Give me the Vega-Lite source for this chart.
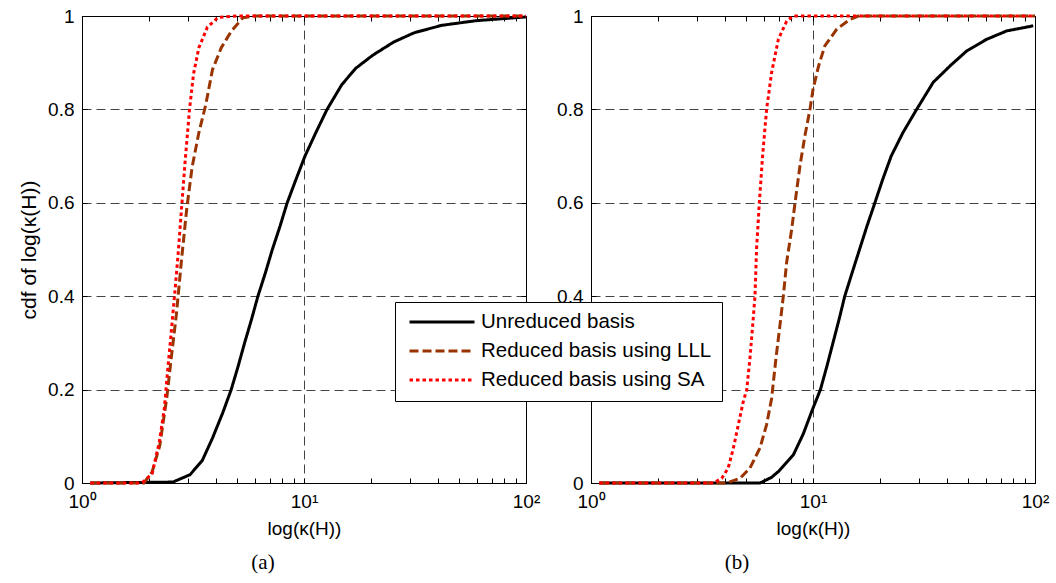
{
  "$schema": "https://vega.github.io/schema/vega-lite/v6.json",
  "padding": {"left": 18, "top": 6, "right": 5, "bottom": 5},
  "background": "white",
  "bounds": "flush",
  "spacing": 65,
  "data": {"values": [
    {"panel": "a", "method": "Unreduced basis", "kappa": 1.09, "cdf": 0},
    {"panel": "a", "method": "Unreduced basis", "kappa": 2.57, "cdf": 0.002},
    {"panel": "a", "method": "Unreduced basis", "kappa": 3.07, "cdf": 0.018},
    {"panel": "a", "method": "Unreduced basis", "kappa": 3.48, "cdf": 0.048},
    {"panel": "a", "method": "Unreduced basis", "kappa": 3.87, "cdf": 0.096},
    {"panel": "a", "method": "Unreduced basis", "kappa": 4.31, "cdf": 0.151},
    {"panel": "a", "method": "Unreduced basis", "kappa": 4.7, "cdf": 0.2},
    {"panel": "a", "method": "Unreduced basis", "kappa": 5.05, "cdf": 0.25},
    {"panel": "a", "method": "Unreduced basis", "kappa": 5.4, "cdf": 0.3},
    {"panel": "a", "method": "Unreduced basis", "kappa": 5.8, "cdf": 0.35},
    {"panel": "a", "method": "Unreduced basis", "kappa": 6.2, "cdf": 0.4},
    {"panel": "a", "method": "Unreduced basis", "kappa": 6.7, "cdf": 0.45},
    {"panel": "a", "method": "Unreduced basis", "kappa": 7.2, "cdf": 0.5},
    {"panel": "a", "method": "Unreduced basis", "kappa": 7.8, "cdf": 0.55},
    {"panel": "a", "method": "Unreduced basis", "kappa": 8.4, "cdf": 0.6},
    {"panel": "a", "method": "Unreduced basis", "kappa": 9.2, "cdf": 0.65},
    {"panel": "a", "method": "Unreduced basis", "kappa": 10.1, "cdf": 0.7},
    {"panel": "a", "method": "Unreduced basis", "kappa": 11.3, "cdf": 0.75},
    {"panel": "a", "method": "Unreduced basis", "kappa": 12.7, "cdf": 0.8},
    {"panel": "a", "method": "Unreduced basis", "kappa": 14.8, "cdf": 0.853},
    {"panel": "a", "method": "Unreduced basis", "kappa": 17.1, "cdf": 0.888},
    {"panel": "a", "method": "Unreduced basis", "kappa": 20.4, "cdf": 0.916},
    {"panel": "a", "method": "Unreduced basis", "kappa": 25.3, "cdf": 0.944},
    {"panel": "a", "method": "Unreduced basis", "kappa": 31.3, "cdf": 0.964},
    {"panel": "a", "method": "Unreduced basis", "kappa": 41.7, "cdf": 0.98},
    {"panel": "a", "method": "Unreduced basis", "kappa": 59.6, "cdf": 0.99},
    {"panel": "a", "method": "Unreduced basis", "kappa": 100, "cdf": 0.998},
    {"panel": "a", "method": "Reduced basis using LLL", "kappa": 1.09, "cdf": 0},
    {"panel": "a", "method": "Reduced basis using LLL", "kappa": 1.9, "cdf": 0},
    {"panel": "a", "method": "Reduced basis using LLL", "kappa": 2.07, "cdf": 0.024},
    {"panel": "a", "method": "Reduced basis using LLL", "kappa": 2.24, "cdf": 0.08},
    {"panel": "a", "method": "Reduced basis using LLL", "kappa": 2.41, "cdf": 0.183},
    {"panel": "a", "method": "Reduced basis using LLL", "kappa": 2.52, "cdf": 0.265},
    {"panel": "a", "method": "Reduced basis using LLL", "kappa": 2.66, "cdf": 0.36},
    {"panel": "a", "method": "Reduced basis using LLL", "kappa": 2.81, "cdf": 0.48},
    {"panel": "a", "method": "Reduced basis using LLL", "kappa": 2.96, "cdf": 0.585},
    {"panel": "a", "method": "Reduced basis using LLL", "kappa": 3.13, "cdf": 0.675},
    {"panel": "a", "method": "Reduced basis using LLL", "kappa": 3.36, "cdf": 0.75},
    {"panel": "a", "method": "Reduced basis using LLL", "kappa": 3.61, "cdf": 0.81},
    {"panel": "a", "method": "Reduced basis using LLL", "kappa": 3.87, "cdf": 0.885},
    {"panel": "a", "method": "Reduced basis using LLL", "kappa": 4.24, "cdf": 0.932},
    {"panel": "a", "method": "Reduced basis using LLL", "kappa": 4.71, "cdf": 0.968},
    {"panel": "a", "method": "Reduced basis using LLL", "kappa": 5.3, "cdf": 0.996},
    {"panel": "a", "method": "Reduced basis using LLL", "kappa": 6, "cdf": 1},
    {"panel": "a", "method": "Reduced basis using LLL", "kappa": 100, "cdf": 1},
    {"panel": "a", "method": "Reduced basis using SA", "kappa": 1.09, "cdf": 0},
    {"panel": "a", "method": "Reduced basis using SA", "kappa": 1.86, "cdf": 0},
    {"panel": "a", "method": "Reduced basis using SA", "kappa": 2.07, "cdf": 0.02},
    {"panel": "a", "method": "Reduced basis using SA", "kappa": 2.23, "cdf": 0.088},
    {"panel": "a", "method": "Reduced basis using SA", "kappa": 2.35, "cdf": 0.16},
    {"panel": "a", "method": "Reduced basis using SA", "kappa": 2.43, "cdf": 0.24},
    {"panel": "a", "method": "Reduced basis using SA", "kappa": 2.52, "cdf": 0.32},
    {"panel": "a", "method": "Reduced basis using SA", "kappa": 2.61, "cdf": 0.4},
    {"panel": "a", "method": "Reduced basis using SA", "kappa": 2.71, "cdf": 0.49},
    {"panel": "a", "method": "Reduced basis using SA", "kappa": 2.81, "cdf": 0.59},
    {"panel": "a", "method": "Reduced basis using SA", "kappa": 2.91, "cdf": 0.685},
    {"panel": "a", "method": "Reduced basis using SA", "kappa": 3.05, "cdf": 0.8},
    {"panel": "a", "method": "Reduced basis using SA", "kappa": 3.18, "cdf": 0.876},
    {"panel": "a", "method": "Reduced basis using SA", "kappa": 3.36, "cdf": 0.932},
    {"panel": "a", "method": "Reduced basis using SA", "kappa": 3.67, "cdf": 0.976},
    {"panel": "a", "method": "Reduced basis using SA", "kappa": 4.1, "cdf": 0.997},
    {"panel": "a", "method": "Reduced basis using SA", "kappa": 5, "cdf": 1},
    {"panel": "a", "method": "Reduced basis using SA", "kappa": 100, "cdf": 1},
    {"panel": "b", "method": "Unreduced basis", "kappa": 1.09, "cdf": 0},
    {"panel": "b", "method": "Unreduced basis", "kappa": 5.77, "cdf": 0},
    {"panel": "b", "method": "Unreduced basis", "kappa": 6.5, "cdf": 0.012},
    {"panel": "b", "method": "Unreduced basis", "kappa": 7.0, "cdf": 0.025},
    {"panel": "b", "method": "Unreduced basis", "kappa": 8.15, "cdf": 0.06},
    {"panel": "b", "method": "Unreduced basis", "kappa": 9.04, "cdf": 0.105},
    {"panel": "b", "method": "Unreduced basis", "kappa": 9.9, "cdf": 0.155},
    {"panel": "b", "method": "Unreduced basis", "kappa": 10.8, "cdf": 0.2},
    {"panel": "b", "method": "Unreduced basis", "kappa": 11.55, "cdf": 0.25},
    {"panel": "b", "method": "Unreduced basis", "kappa": 12.3, "cdf": 0.3},
    {"panel": "b", "method": "Unreduced basis", "kappa": 13.1, "cdf": 0.35},
    {"panel": "b", "method": "Unreduced basis", "kappa": 13.9, "cdf": 0.4},
    {"panel": "b", "method": "Unreduced basis", "kappa": 15.0, "cdf": 0.45},
    {"panel": "b", "method": "Unreduced basis", "kappa": 16.2, "cdf": 0.5},
    {"panel": "b", "method": "Unreduced basis", "kappa": 17.5, "cdf": 0.55},
    {"panel": "b", "method": "Unreduced basis", "kappa": 19.0, "cdf": 0.6},
    {"panel": "b", "method": "Unreduced basis", "kappa": 20.6, "cdf": 0.65},
    {"panel": "b", "method": "Unreduced basis", "kappa": 22.5, "cdf": 0.7},
    {"panel": "b", "method": "Unreduced basis", "kappa": 25.4, "cdf": 0.75},
    {"panel": "b", "method": "Unreduced basis", "kappa": 29.3, "cdf": 0.8},
    {"panel": "b", "method": "Unreduced basis", "kappa": 34.8, "cdf": 0.858},
    {"panel": "b", "method": "Unreduced basis", "kappa": 41.4, "cdf": 0.893},
    {"panel": "b", "method": "Unreduced basis", "kappa": 49.2, "cdf": 0.925},
    {"panel": "b", "method": "Unreduced basis", "kappa": 60.5, "cdf": 0.95},
    {"panel": "b", "method": "Unreduced basis", "kappa": 74.5, "cdf": 0.968},
    {"panel": "b", "method": "Unreduced basis", "kappa": 98.2, "cdf": 0.979},
    {"panel": "b", "method": "Reduced basis using LLL", "kappa": 1.09, "cdf": 0},
    {"panel": "b", "method": "Reduced basis using LLL", "kappa": 4.08, "cdf": 0},
    {"panel": "b", "method": "Reduced basis using LLL", "kappa": 4.69, "cdf": 0.01},
    {"panel": "b", "method": "Reduced basis using LLL", "kappa": 5.2, "cdf": 0.032},
    {"panel": "b", "method": "Reduced basis using LLL", "kappa": 5.77, "cdf": 0.075},
    {"panel": "b", "method": "Reduced basis using LLL", "kappa": 6.18, "cdf": 0.125},
    {"panel": "b", "method": "Reduced basis using LLL", "kappa": 6.51, "cdf": 0.181},
    {"panel": "b", "method": "Reduced basis using LLL", "kappa": 6.81, "cdf": 0.267},
    {"panel": "b", "method": "Reduced basis using LLL", "kappa": 7.1, "cdf": 0.338},
    {"panel": "b", "method": "Reduced basis using LLL", "kappa": 7.35, "cdf": 0.4},
    {"panel": "b", "method": "Reduced basis using LLL", "kappa": 7.61, "cdf": 0.473},
    {"panel": "b", "method": "Reduced basis using LLL", "kappa": 8.02, "cdf": 0.544},
    {"panel": "b", "method": "Reduced basis using LLL", "kappa": 8.3, "cdf": 0.6},
    {"panel": "b", "method": "Reduced basis using LLL", "kappa": 8.74, "cdf": 0.68},
    {"panel": "b", "method": "Reduced basis using LLL", "kappa": 9.2, "cdf": 0.744},
    {"panel": "b", "method": "Reduced basis using LLL", "kappa": 9.69, "cdf": 0.8},
    {"panel": "b", "method": "Reduced basis using LLL", "kappa": 10.0, "cdf": 0.843},
    {"panel": "b", "method": "Reduced basis using LLL", "kappa": 10.6, "cdf": 0.893},
    {"panel": "b", "method": "Reduced basis using LLL", "kappa": 11.3, "cdf": 0.936},
    {"panel": "b", "method": "Reduced basis using LLL", "kappa": 12.8, "cdf": 0.972},
    {"panel": "b", "method": "Reduced basis using LLL", "kappa": 14.7, "cdf": 0.993},
    {"panel": "b", "method": "Reduced basis using LLL", "kappa": 16, "cdf": 1},
    {"panel": "b", "method": "Reduced basis using LLL", "kappa": 100, "cdf": 1},
    {"panel": "b", "method": "Reduced basis using SA", "kappa": 1.09, "cdf": 0},
    {"panel": "b", "method": "Reduced basis using SA", "kappa": 3.56, "cdf": 0},
    {"panel": "b", "method": "Reduced basis using SA", "kappa": 3.88, "cdf": 0.01},
    {"panel": "b", "method": "Reduced basis using SA", "kappa": 4.15, "cdf": 0.032},
    {"panel": "b", "method": "Reduced basis using SA", "kappa": 4.38, "cdf": 0.075},
    {"panel": "b", "method": "Reduced basis using SA", "kappa": 4.61, "cdf": 0.125},
    {"panel": "b", "method": "Reduced basis using SA", "kappa": 4.85, "cdf": 0.174},
    {"panel": "b", "method": "Reduced basis using SA", "kappa": 5.03, "cdf": 0.2},
    {"panel": "b", "method": "Reduced basis using SA", "kappa": 5.2, "cdf": 0.267},
    {"panel": "b", "method": "Reduced basis using SA", "kappa": 5.38, "cdf": 0.352},
    {"panel": "b", "method": "Reduced basis using SA", "kappa": 5.48, "cdf": 0.402},
    {"panel": "b", "method": "Reduced basis using SA", "kappa": 5.57, "cdf": 0.502},
    {"panel": "b", "method": "Reduced basis using SA", "kappa": 5.73, "cdf": 0.6},
    {"panel": "b", "method": "Reduced basis using SA", "kappa": 5.93, "cdf": 0.701},
    {"panel": "b", "method": "Reduced basis using SA", "kappa": 6.18, "cdf": 0.8},
    {"panel": "b", "method": "Reduced basis using SA", "kappa": 6.51, "cdf": 0.879},
    {"panel": "b", "method": "Reduced basis using SA", "kappa": 6.98, "cdf": 0.95},
    {"panel": "b", "method": "Reduced basis using SA", "kappa": 7.61, "cdf": 0.989},
    {"panel": "b", "method": "Reduced basis using SA", "kappa": 8.15, "cdf": 1},
    {"panel": "b", "method": "Reduced basis using SA", "kappa": 100, "cdf": 1}
  ]},
  "hconcat": [
    {
      "width": 444, "height": 467,
      "transform": [{"filter": "datum.panel == 'a'"}],
      "title": {"text": "(a)", "orient": "bottom", "anchor": "middle", "frame": "group", "dx": -41, "offset": 14, "font": "Liberation Serif", "fontSize": 21, "fontWeight": "normal", "color": "black"},
      "layer": [
        {
          "mark": {"type": "line", "strokeWidth": 3},
          "encoding": {
            "x": {"field": "kappa", "type": "quantitative", "scale": {"type": "log", "domain": [1, 100]},
              "axis": {"title": "log(κ(H))", "values": [1,2,3,4,5,6,7,8,9,10,20,30,40,50,60,70,80,90,100], "labelExpr": "datum.value == 1 ? '10⁰' : datum.value == 10 ? '10¹' : datum.value == 100 ? '10²' : ''", "labelOverlap": false, "labelFlush": false, "labelBound": false, "labelPadding": 14, "titlePadding": 8, "gridOpacity": {"condition": {"test": "datum.value == 10", "value": 1}, "value": 0}}},
            "y": {"field": "cdf", "type": "quantitative", "scale": {"domain": [0, 1]},
              "axis": {"title": "cdf of log(κ(H))", "titleFontSize": 21, "values": [0,0.2,0.4,0.6,0.8,1], "format": "~g", "labelPadding": 13, "titlePadding": 8, "gridOpacity": {"condition": {"test": "datum.value == 0 || datum.value == 1", "value": 0}, "value": 1}}},
            "color": {"field": "method", "type": "nominal", "scale": {"domain": ["Unreduced basis", "Reduced basis using LLL", "Reduced basis using SA"], "range": ["#000000", "#993300", "#ff0000"]}, "legend": {"title": null}},
            "strokeDash": {"field": "method", "type": "nominal", "scale": {"domain": ["Unreduced basis", "Reduced basis using LLL", "Reduced basis using SA"], "range": [[1, 0], [9, 4], [3.5, 3]]}, "legend": {"title": null}}
          }
        },
        {
          "mark": {"type": "line", "opacity": 0},
          "encoding": {
            "x": {"field": "kappa", "type": "quantitative", "scale": {"type": "log", "domain": [1, 100]}, "axis": {"orient": "top", "values": [1,2,3,4,5,6,7,8,9,10,20,30,40,50,60,70,80,90,100], "labels": false, "title": null, "grid": false}},
            "y": {"field": "cdf", "type": "quantitative", "scale": {"domain": [0, 1]}, "axis": {"orient": "right", "values": [0,0.2,0.4,0.6,0.8,1], "labels": false, "title": null, "grid": false}}
          }
        }
      ],
      "resolve": {"axis": {"x": "independent", "y": "independent"}}
    },
    {
      "width": 444, "height": 467,
      "transform": [{"filter": "datum.panel == 'b'"}],
      "title": {"text": "(b)", "orient": "bottom", "anchor": "middle", "frame": "group", "dx": -76, "offset": 14, "font": "Liberation Serif", "fontSize": 21, "fontWeight": "normal", "color": "black"},
      "layer": [
        {
          "mark": {"type": "line", "strokeWidth": 3},
          "encoding": {
            "x": {"field": "kappa", "type": "quantitative", "scale": {"type": "log", "domain": [1, 100]},
              "axis": {"title": "log(κ(H))", "values": [1,2,3,4,5,6,7,8,9,10,20,30,40,50,60,70,80,90,100], "labelExpr": "datum.value == 1 ? '10⁰' : datum.value == 10 ? '10¹' : datum.value == 100 ? '10²' : ''", "labelOverlap": false, "labelFlush": false, "labelBound": false, "labelPadding": 14, "titlePadding": 8, "gridOpacity": {"condition": {"test": "datum.value == 10", "value": 1}, "value": 0}}},
            "y": {"field": "cdf", "type": "quantitative", "scale": {"domain": [0, 1]},
              "axis": {"title": null, "values": [0,0.2,0.4,0.6,0.8,1], "format": "~g", "labelPadding": 13, "gridOpacity": {"condition": {"test": "datum.value == 0 || datum.value == 1", "value": 0}, "value": 1}}},
            "color": {"field": "method", "type": "nominal", "scale": {"domain": ["Unreduced basis", "Reduced basis using LLL", "Reduced basis using SA"], "range": ["#000000", "#993300", "#ff0000"]}, "legend": {"title": null}},
            "strokeDash": {"field": "method", "type": "nominal", "scale": {"domain": ["Unreduced basis", "Reduced basis using LLL", "Reduced basis using SA"], "range": [[1, 0], [9, 4], [3.5, 3]]}, "legend": {"title": null}}
          }
        },
        {
          "mark": {"type": "line", "opacity": 0},
          "encoding": {
            "x": {"field": "kappa", "type": "quantitative", "scale": {"type": "log", "domain": [1, 100]}, "axis": {"orient": "top", "values": [1,2,3,4,5,6,7,8,9,10,20,30,40,50,60,70,80,90,100], "labels": false, "title": null, "grid": false}},
            "y": {"field": "cdf", "type": "quantitative", "scale": {"domain": [0, 1]}, "axis": {"orient": "right", "values": [0,0.2,0.4,0.6,0.8,1], "labels": false, "title": null, "grid": false}}
          }
        }
      ],
      "resolve": {"axis": {"x": "independent", "y": "independent"}}
    }
  ],
  "config": {
    "font": "Liberation Sans",
    "view": {"stroke": "black", "strokeWidth": 1},
    "axis": {
      "labelFont": "Liberation Sans", "labelFontSize": 19, "labelColor": "black",
      "titleFont": "Liberation Sans", "titleFontSize": 19, "titleFontWeight": "normal", "titleColor": "black",
      "domainColor": "black", "domainWidth": 1, "tickColor": "black", "tickSize": -5, "tickWidth": 1,
      "gridColor": "#444444", "gridDash": [9, 5], "gridWidth": 1
    },
    "legend": {
      "orient": "none", "legendX": 313, "legendY": 286,
      "symbolType": "stroke", "symbolSize": 4225, "symbolStrokeWidth": 3,
      "clipHeight": 20, "rowPadding": 8, "padding": 10,
      "symbolOffset": 3, "labelOffset": 5,
      "labelFont": "Liberation Sans", "labelFontSize": 20.5, "labelColor": "black", "labelLimit": 400,
      "strokeColor": "black", "fillColor": "white", "cornerRadius": 0
    }
  }
}
